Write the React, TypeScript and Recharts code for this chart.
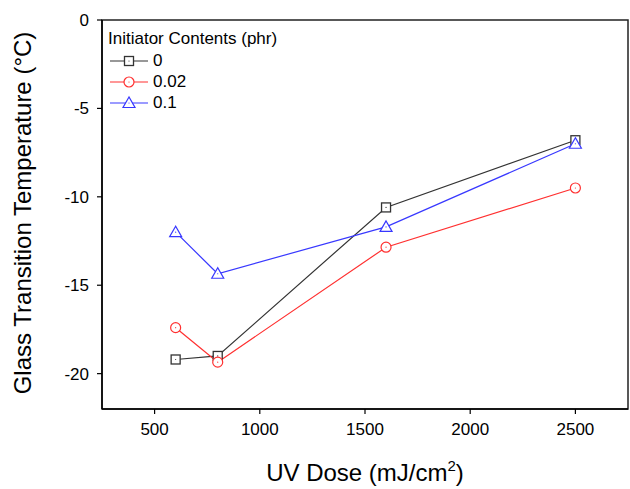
import { LineChart, Line, XAxis, YAxis, ReferenceArea, Legend } from "recharts";

const doses = [600, 800, 1600, 2500];
const tg0 = [-19.2, -19.0, -10.6, -6.8];
const tg002 = [-17.4, -19.35, -12.85, -9.5];
const tg01 = [-12.0, -14.35, -11.7, -7.0];
const xTicks = [500, 1000, 1500, 2000, 2500];
const yTicks = [0, -5, -10, -15, -20];

const FONT = '"Liberation Sans", Arial, sans-serif';

const data = doses.map((dose, i) => ({
  dose,
  s0: tg0[i],
  s002: tg002[i],
  s01: tg01[i],
}));

type Shape = "square" | "circle" | "triangle";

const series: { key: string; name: string; color: string; shape: Shape }[] = [
  { key: "s0", name: "0", color: "#333333", shape: "square" },
  { key: "s002", name: "0.02", color: "#ff3030", shape: "circle" },
  { key: "s01", name: "0.1", color: "#3838ff", shape: "triangle" },
];

const Marker = ({ cx, cy, color, shape }: { cx: number; cy: number; color: string; shape: Shape }) => {
  let outline;
  if (shape === "square") {
    outline = <rect x={cx - 4.5} y={cy - 4.5} width={9} height={9} fill="#fff" stroke={color} strokeWidth={1.3} />;
  } else if (shape === "circle") {
    outline = <circle cx={cx} cy={cy} r={5} fill="#fff" stroke={color} strokeWidth={1.2} />;
  } else {
    outline = (
      <polygon
        points={`${cx},${cy - 6} ${cx - 6},${cy + 4.5} ${cx + 6},${cy + 4.5}`}
        fill="#fff"
        stroke={color}
        strokeWidth={1.2}
      />
    );
  }
  return (
    <g>
      {outline}
      <circle cx={cx} cy={cy} r={0.6} fill={color} />
    </g>
  );
};

const makeDot = (color: string, shape: Shape) => (props: any) => (
  <Marker key={`${shape}-${props.index}`} cx={props.cx} cy={props.cy} color={color} shape={shape} />
);

const LegendBox = () => (
  <div style={{ fontFamily: FONT, fontSize: 17, color: "#000", lineHeight: "21px" }}>
    <div style={{ marginBottom: 1 }}>Initiator Contents (phr)</div>
    {series.map((s) => (
      <div key={s.key} style={{ display: "flex", alignItems: "center", height: 21 }}>
        <svg width={42} height={16} style={{ marginRight: 3 }}>
          <line x1={2} y1={8} x2={40} y2={8} stroke={s.color} strokeWidth={1.2} />
          <Marker cx={21} cy={8} color={s.color} shape={s.shape} />
        </svg>
        <span>{s.name}</span>
      </div>
    ))}
  </div>
);

const XTitle = () => (
  <text x={365} y={481} textAnchor="middle" fontFamily={FONT} fontSize={24} fill="#000">
    <tspan>UV Dose (mJ/cm</tspan>
    <tspan fontSize={15} dy={-10}>2</tspan>
    <tspan dy={10}>)</tspan>
  </text>
);

const YTitle = () => (
  <text
    x={31}
    y={213}
    transform="rotate(-90 31 213)"
    textAnchor="middle"
    fontFamily={FONT}
    fontSize={24}
    fill="#000"
  >
    Glass Transition Temperature (°C)
  </text>
);

export default function App() {
  return (
    <div style={{ position: "absolute", left: 0, top: 0, width: 630, height: 489, background: "#fff" }}>
      <LineChart width={630} height={489} data={data} margin={{ top: 20, right: 2, bottom: 50, left: 42 }}>
        <XAxis
          dataKey="dose"
          type="number"
          domain={[250, 2750]}
          ticks={xTicks}
          height={30}
          tickSize={5}
          tickMargin={9}
          axisLine={{ stroke: "#000", strokeWidth: 1.5 }}
          tickLine={{ stroke: "#000", strokeWidth: 1.2 }}
          tick={{ fill: "#000", fontSize: 17, fontFamily: FONT }}
          label={<XTitle />}
        />
        <YAxis
          type="number"
          domain={[-22, 0]}
          ticks={yTicks}
          width={60}
          tickSize={5}
          tickMargin={8}
          axisLine={{ stroke: "#000", strokeWidth: 1.5 }}
          tickLine={{ stroke: "#000", strokeWidth: 1.2 }}
          tick={{ fill: "#000", fontSize: 17, fontFamily: FONT }}
          label={<YTitle />}
        />
        <ReferenceArea x1={250} x2={2750} y1={-22} y2={0} fill="none" stroke="#222" strokeWidth={1.5} />
        {series.map((s) => (
          <Line
            key={s.key}
            dataKey={s.key}
            name={s.name}
            type="linear"
            stroke={s.color}
            strokeWidth={1.2}
            dot={makeDot(s.color, s.shape)}
            activeDot={false}
            isAnimationActive={false}
          />
        ))}
        <Legend
          layout="vertical"
          align="center"
          verticalAlign="middle"
          content={<LegendBox />}
          wrapperStyle={{ left: 108, top: 28, width: "auto" }}
        />
      </LineChart>
    </div>
  );
}
